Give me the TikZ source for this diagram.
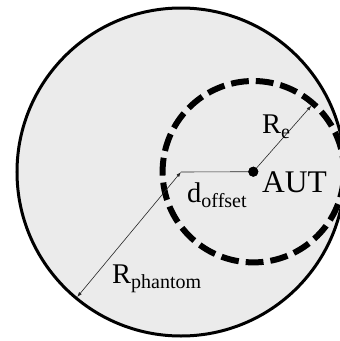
\documentclass[tikz,border=0pt]{standalone}
\usepackage{fontspec}
\setmainfont{Liberation Serif}
\usetikzlibrary{arrows.meta}
\newcommand{\mysub}[1]{\raisebox{-0.2em}{\fontsize{20}{20}\selectfont #1}}
\begin{document}
\begin{tikzpicture}[x=1pt,y=-1pt,
  phantom/.style={fill=black!8, draw=black, line width=3pt},
  roi/.style={draw=black, line width=6pt, dash pattern=on 17.8pt off 7pt, dash phase=16.5pt},
  dimline/.style={draw=black!85, line width=0.6pt},
  tipend/.style={-{Latex[length=5pt,width=3.5pt]}},
  tipboth/.style={{Latex[length=5pt,width=3.5pt]}-{Latex[length=5pt,width=3.5pt]}},
  lbl/.style={font=\fontsize{28.5}{28.5}\selectfont, inner sep=0pt, anchor=base west},
  dot/.style={circle, fill=black, inner sep=0pt, minimum size=10pt}]
\useasboundingbox (0,0) rectangle (340,341);
\clip (0,0) rectangle (340,341);
\fill[white] (0,0) rectangle (340,341);
% phantom and region
\coordinate (pc) at (181,172);
\draw[phantom] (pc) circle[radius=164];
\node[dot] (aut) at (253.3,171.7) {};
\draw[roi] (aut.center) circle[radius=90.7];
% end points
\coordinate (reend) at (311.4,105.6);
\coordinate (rpend) at (77.2,297);
% connectors
\draw[dimline] (aut.center) -- (pc);
\draw[dimline,tipend] (aut.center) -- (reend);
\draw[dimline,tipboth] (pc) -- (rpend);
\node[dot] at (aut.center) {};
% labels
\node[lbl] (lre) at (262,133) {R\mysub{e}};
\node[lbl, font=\fontsize{31.5}{31.5}\selectfont] (laut) at (262,192) {AUT};
\node[lbl] (ldo) at (187,202) {d\mysub{offset}};
\node[lbl] (lrp) at (112,283) {R\mysub{phantom}};
\end{tikzpicture}
\end{document}
